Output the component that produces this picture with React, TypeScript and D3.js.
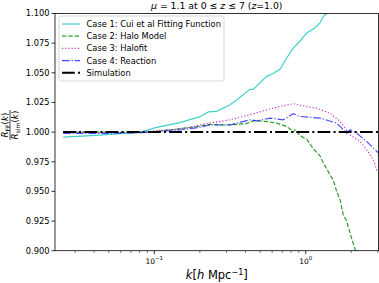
import React from 'react';
import * as d3 from 'd3';

// k [h/Mpc] and ratio values
const kCase1 = [0.025, 0.0438, 0.0805, 0.1037, 0.1479, 0.2004, 0.2275, 0.2584, 0.3163, 0.35, 0.4285, 0.4508, 0.5525, 0.6, 0.676, 0.749, 0.829, 0.917, 1.016, 1.152, 1.243, 1.307, 1.41];
const rCase1 = [0.9958, 0.9975, 1.0, 1.004, 1.008, 1.013, 1.017, 1.0175, 1.023, 1.027, 1.036, 1.036, 1.047, 1.049, 1.053, 1.0625, 1.071, 1.0766, 1.0836, 1.088, 1.092, 1.0976, 1.101];

const kCase2 = [0.025, 0.05, 0.08, 0.1, 0.15, 0.2, 0.23, 0.3, 0.4, 0.45, 0.55, 0.643, 0.749, 0.8, 0.829, 0.85, 0.917, 1.016, 1.122, 1.243, 1.307, 1.449, 1.52, 1.602, 1.686, 1.772, 1.866, 1.91, 2.062, 2.137, 2.2];
const rCase2 = [1.0, 1.0, 0.9995, 1.0005, 1.003, 1.005, 1.0065, 1.006, 1.007, 1.0095, 1.009, 1.0076, 1.0047, 1.002, 1.0, 1.002, 0.997, 0.994, 0.986, 0.98, 0.974, 0.964, 0.9597, 0.95, 0.943, 0.93, 0.925, 0.92, 0.906, 0.9, 0.895];

const kCase3 = [0.025, 0.05, 0.08, 0.1, 0.13, 0.17, 0.2, 0.233, 0.316, 0.4285, 0.5525, 0.676, 0.829, 0.964, 1.183, 1.449, 1.686, 1.82, 1.965, 2.287, 2.531, 2.8, 2.946, 3.05];
const rCase3 = [1.0, 0.9995, 1.0, 1.001, 1.002, 1.004, 1.006, 1.0076, 1.0104, 1.0146, 1.0188, 1.0216, 1.024, 1.022, 1.02, 1.016, 1.009, 1.0034, 0.9977, 0.992, 0.985, 0.9766, 0.968, 0.967];

const kCase4 = [0.025, 0.05, 0.08, 0.1, 0.15, 0.2, 0.233, 0.316, 0.4285, 0.48, 0.581, 0.711, 0.829, 0.917, 1.243, 1.602, 1.772, 1.866, 1.965, 2.174, 2.531, 2.8, 3.05];
const rCase4 = [0.999, 0.999, 0.9995, 1.0, 1.002, 1.004, 1.006, 1.006, 1.0104, 1.0095, 1.0118, 1.0104, 1.0155, 1.0132, 1.0118, 1.0076, 1.002, 0.999, 1.002, 0.999, 0.992, 0.9865, 0.982];

const kSim = [0.025, 3.05];
const rSim = [1.0, 1.0];

const yTicks = [0.9, 0.925, 0.95, 0.975, 1.0, 1.025, 1.05, 1.075, 1.1];
const xMajor = [0.1, 1];
const xMajorExp = ['\u22121', '0'];

const legendLabels = [
  'Case 1: Cui et al Fitting Function',
  'Case 2: Halo Model',
  'Case 3: Halofit',
  'Case 4: Reaction',
  'Simulation',
];

const W = 379;
const H = 283;
const m = { left: 55, right: 378.5, top: 13.5, bottom: 250.7 };
const font = 'DejaVu Sans, sans-serif';

const series = [
  { k: kCase1, r: rCase1, color: '#3fd2cc', width: 1.2, dash: '', opacity: 1 },
  { k: kCase2, r: rCase2, color: '#2ca02c', width: 1.2, dash: '4.4,1.9', opacity: 1 },
  { k: kCase3, r: rCase3, color: '#cc2fcc', width: 1.2, dash: '1.2,2', opacity: 1 },
  { k: kCase4, r: rCase4, color: '#0000ff', width: 1.2, dash: '7.7,1.9,1.2,1.9', opacity: 0.7 },
  { k: kSim, r: rSim, color: '#000000', width: 2, dash: '12.8,3.2,2,3.2', opacity: 1 },
];

export default function App() {
  const x = d3.scaleLog().domain([0.02208, 3.026]).range([m.left, m.right]);
  const y = d3.scaleLinear().domain([0.9, 1.1]).range([m.bottom, m.top]);

  const line = d3.line<[number, number]>().x(d => x(d[0])).y(d => y(d[1]));

  const minor: number[] = [];
  [0.01, 0.1, 1].forEach(dec => {
    for (let i = 2; i <= 9; i++) {
      const v = dec * i;
      if (v >= 0.02208 && v <= 3.026) minor.push(v);
    }
  });

  return (
    <svg width={W} height={H} style={{ position: 'absolute', left: 0, top: 0, background: '#fff' }} fontFamily={font}>
      <defs>
        <clipPath id="plot">
          <rect x={m.left} y={m.top} width={m.right - m.left} height={m.bottom - m.top} />
        </clipPath>
      </defs>
      <rect width={W} height={H} fill="#fff" />

      <g clipPath="url(#plot)">
        {series.map((s, i) => (
          <path
            key={i}
            d={line(s.k.map((k, j) => [k, s.r[j]] as [number, number])) || ''}
            fill="none"
            stroke={s.color}
            strokeWidth={s.width}
            strokeDasharray={s.dash || undefined}
            strokeOpacity={s.opacity}
          />
        ))}
      </g>

      {/* spines */}
      <rect x={m.left} y={m.top} width={m.right - m.left} height={m.bottom - m.top} fill="none" stroke="#000" strokeWidth={0.8} />

      {/* y ticks */}
      {yTicks.map(t => (
        <g key={t}>
          <line x1={m.left - 3.5} x2={m.left} y1={y(t)} y2={y(t)} stroke="#000" strokeWidth={0.8} />
          <text x={m.left - 5.5} y={y(t)} dy="0.36em" textAnchor="end" fontSize={8.3}>{d3.format('.3f')(t)}</text>
        </g>
      ))}

      {/* x ticks */}
      {minor.map(t => (
        <line key={t} x1={x(t)} x2={x(t)} y1={m.bottom} y2={m.bottom + 2} stroke="#000" strokeWidth={0.6} />
      ))}
      {xMajor.map((t, i) => (
        <g key={t}>
          <line x1={x(t)} x2={x(t)} y1={m.bottom} y2={m.bottom + 3.5} stroke="#000" strokeWidth={0.8} />
          <text x={x(t)} y={m.bottom + 13} textAnchor="middle" fontSize={7.5}>
            10<tspan dy={-3.5} fontSize={5.5}>{xMajorExp[i]}</tspan>
          </text>
        </g>
      ))}

      {/* axis labels */}
      <text x={(m.left + m.right) / 2} y={279} textAnchor="middle" fontSize={11.5}>
        <tspan fontStyle="italic">k</tspan>[<tspan fontStyle="italic">h</tspan> Mpc<tspan dy={-4.5} fontSize={8}>{'\u22121'}</tspan><tspan dy={4.5}>]</tspan>
      </text>

      <g transform="translate(10,125) rotate(-90)" fontSize={8.8}>
        <text x={0} y={-1.8} textAnchor="middle">
          <tspan fontStyle="italic">R</tspan><tspan dy={1.6} fontSize={6}>FF</tspan><tspan dy={-1.6}>(</tspan><tspan fontStyle="italic">k</tspan>)
        </text>
        <line x1={-15} x2={15} y1={0} y2={0} stroke="#000" strokeWidth={0.7} />
        <text x={0} y={8.3} textAnchor="middle">
          <tspan fontStyle="italic">R</tspan><tspan dy={1.6} fontSize={6}>sim</tspan><tspan dy={-1.6}>(</tspan><tspan fontStyle="italic">k</tspan>)
        </text>
      </g>

      {/* title */}
      <text x={(m.left + m.right) / 2} y={9} textAnchor="middle" fontSize={9.3}>
        <tspan fontStyle="italic">{'\u03bc'}</tspan> = 1.1 at 0 {'\u2264'} <tspan fontStyle="italic">z</tspan> {'\u2264'} 7 (<tspan fontStyle="italic">z</tspan>=1.0)
      </text>

      {/* legend */}
      <g>
        <rect x={59} y={16} width={165} height={65} rx={2} fill="#fff" fillOpacity={0.8} stroke="#cccccc" strokeWidth={0.8} />
        {legendLabels.map((lab, i) => {
          const s = series[i];
          const yy = 24 + i * 12.2;
          return (
            <g key={lab}>
              <line x1={62} x2={80} y1={yy} y2={yy} stroke={s.color} strokeWidth={s.width} strokeDasharray={s.dash || undefined} strokeOpacity={s.opacity} />
              <text x={86.5} y={yy} dy="0.36em" fontSize={8.3}>{lab}</text>
            </g>
          );
        })}
      </g>
    </svg>
  );
}
